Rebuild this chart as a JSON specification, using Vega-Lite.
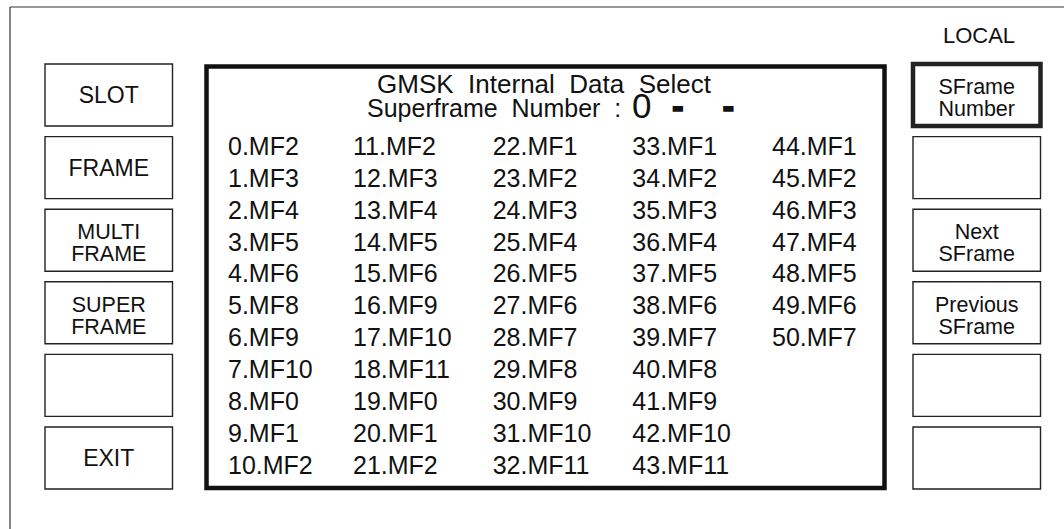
{
  "$schema": "https://vega.github.io/schema/vega-lite/v6.json",
  "width": 1064,
  "height": 529,
  "padding": 0,
  "autosize": {"type": "none"},
  "background": "white",
  "config": {"view": {"stroke": null}, "font": "Liberation Sans"},
  "resolve": {"scale": {"x": "independent", "y": "independent"}},
  "datasets": {
    "frame": [
      {"part": "top edge", "x": 10, "x2": 1064, "y": 7, "y2": 7},
      {"part": "left edge", "x": 10, "x2": 10, "y": 7, "y2": 529}
    ],
    "box": [
      {"part": "data window", "x": 206.5, "x2": 884.5, "y": 66.5, "y2": 488}
    ],
    "header": [
      {"kind": "title", "label": "GMSK\u00a0 Internal\u00a0 Data\u00a0 Select", "x": 544, "y": 93},
      {"kind": "sub", "label": "Superframe\u00a0 Number\u00a0 :", "x": 367, "y": 117},
      {"kind": "digit", "label": "0", "x": 632, "y": 118},
      {"kind": "dash", "label": "-\u00a0\u00a0\u00a0\u00a0-", "x": 703, "y": 118},
      {"kind": "status", "label": "LOCAL", "x": 979, "y": 43}
    ],
    "buttons": [
      {"side": "left", "slot": 0, "label": "SLOT", "selected": false},
      {"side": "left", "slot": 1, "label": "FRAME", "selected": false},
      {"side": "left", "slot": 2, "label": "MULTI\nFRAME", "selected": false},
      {"side": "left", "slot": 3, "label": "SUPER\nFRAME", "selected": false},
      {"side": "left", "slot": 4, "label": "", "selected": false},
      {"side": "left", "slot": 5, "label": "EXIT", "selected": false},
      {"side": "right", "slot": 0, "label": "SFrame\nNumber", "selected": true},
      {"side": "right", "slot": 1, "label": "", "selected": false},
      {"side": "right", "slot": 2, "label": "Next\nSFrame", "selected": false},
      {"side": "right", "slot": 3, "label": "Previous\nSFrame", "selected": false},
      {"side": "right", "slot": 4, "label": "", "selected": false},
      {"side": "right", "slot": 5, "label": "", "selected": false}
    ],
    "cells": [
      {"col": 0, "row": 0, "cell": "0.MF2"},
      {"col": 0, "row": 1, "cell": "1.MF3"},
      {"col": 0, "row": 2, "cell": "2.MF4"},
      {"col": 0, "row": 3, "cell": "3.MF5"},
      {"col": 0, "row": 4, "cell": "4.MF6"},
      {"col": 0, "row": 5, "cell": "5.MF8"},
      {"col": 0, "row": 6, "cell": "6.MF9"},
      {"col": 0, "row": 7, "cell": "7.MF10"},
      {"col": 0, "row": 8, "cell": "8.MF0"},
      {"col": 0, "row": 9, "cell": "9.MF1"},
      {"col": 0, "row": 10, "cell": "10.MF2"},
      {"col": 1, "row": 0, "cell": "11.MF2"},
      {"col": 1, "row": 1, "cell": "12.MF3"},
      {"col": 1, "row": 2, "cell": "13.MF4"},
      {"col": 1, "row": 3, "cell": "14.MF5"},
      {"col": 1, "row": 4, "cell": "15.MF6"},
      {"col": 1, "row": 5, "cell": "16.MF9"},
      {"col": 1, "row": 6, "cell": "17.MF10"},
      {"col": 1, "row": 7, "cell": "18.MF11"},
      {"col": 1, "row": 8, "cell": "19.MF0"},
      {"col": 1, "row": 9, "cell": "20.MF1"},
      {"col": 1, "row": 10, "cell": "21.MF2"},
      {"col": 2, "row": 0, "cell": "22.MF1"},
      {"col": 2, "row": 1, "cell": "23.MF2"},
      {"col": 2, "row": 2, "cell": "24.MF3"},
      {"col": 2, "row": 3, "cell": "25.MF4"},
      {"col": 2, "row": 4, "cell": "26.MF5"},
      {"col": 2, "row": 5, "cell": "27.MF6"},
      {"col": 2, "row": 6, "cell": "28.MF7"},
      {"col": 2, "row": 7, "cell": "29.MF8"},
      {"col": 2, "row": 8, "cell": "30.MF9"},
      {"col": 2, "row": 9, "cell": "31.MF10"},
      {"col": 2, "row": 10, "cell": "32.MF11"},
      {"col": 3, "row": 0, "cell": "33.MF1"},
      {"col": 3, "row": 1, "cell": "34.MF2"},
      {"col": 3, "row": 2, "cell": "35.MF3"},
      {"col": 3, "row": 3, "cell": "36.MF4"},
      {"col": 3, "row": 4, "cell": "37.MF5"},
      {"col": 3, "row": 5, "cell": "38.MF6"},
      {"col": 3, "row": 6, "cell": "39.MF7"},
      {"col": 3, "row": 7, "cell": "40.MF8"},
      {"col": 3, "row": 8, "cell": "41.MF9"},
      {"col": 3, "row": 9, "cell": "42.MF10"},
      {"col": 3, "row": 10, "cell": "43.MF11"},
      {"col": 4, "row": 0, "cell": "44.MF1"},
      {"col": 4, "row": 1, "cell": "45.MF2"},
      {"col": 4, "row": 2, "cell": "46.MF3"},
      {"col": 4, "row": 3, "cell": "47.MF4"},
      {"col": 4, "row": 4, "cell": "48.MF5"},
      {"col": 4, "row": 5, "cell": "49.MF6"},
      {"col": 4, "row": 6, "cell": "50.MF7"}
    ]
  },
  "layer": [
    {
      "data": {"name": "frame"},
      "mark": {"type": "rule", "stroke": "#333333", "strokeWidth": 1.2},
      "encoding": {
        "x": {"field": "x", "type": "quantitative", "axis": null, "scale": {"domain": [0, 1064], "range": [0, 1064], "nice": false, "zero": false}},
        "x2": {"field": "x2"},
        "y": {"field": "y", "type": "quantitative", "axis": null, "scale": {"domain": [0, 529], "range": [0, 529], "nice": false, "zero": false}},
        "y2": {"field": "y2"}
      }
    },
    {
      "data": {"name": "box"},
      "mark": {"type": "rect", "fill": "white", "stroke": "#111111", "strokeWidth": 4.5},
      "encoding": {
        "x": {"field": "x", "type": "quantitative", "axis": null, "scale": {"domain": [0, 1064], "range": [0, 1064], "nice": false, "zero": false}},
        "x2": {"field": "x2"},
        "y": {"field": "y", "type": "quantitative", "axis": null, "scale": {"domain": [0, 529], "range": [0, 529], "nice": false, "zero": false}},
        "y2": {"field": "y2"}
      }
    },
    {
      "data": {"name": "buttons"},
      "mark": {"type": "rect", "fill": "white", "stroke": "#222222"},
      "encoding": {
        "x": {"field": "side", "type": "nominal", "axis": null, "scale": {"type": "band", "domain": ["left", "right"], "range": [45, 1040.5], "paddingInner": 0.85311, "paddingOuter": 0}},
        "y": {"field": "slot", "type": "ordinal", "axis": null, "scale": {"type": "band", "domain": [0, 1, 2, 3, 4, 5], "range": [64, 489], "paddingInner": 0.146, "paddingOuter": 0}},
        "strokeWidth": {"condition": {"test": "datum.selected", "value": 4.5}, "value": 1.4}
      }
    },
    {
      "data": {"name": "buttons"},
      "transform": [{"filter": "indexof(datum.label, '\\n') < 0"}],
      "mark": {"type": "text", "fontSize": 23, "align": "center", "baseline": "middle", "color": "#111111", "dy": 1},
      "encoding": {
        "x": {"field": "side", "type": "nominal", "axis": null, "bandPosition": 0.5, "scale": {"type": "band", "domain": ["left", "right"], "range": [45, 1040.5], "paddingInner": 0.85311, "paddingOuter": 0}},
        "y": {"field": "slot", "type": "ordinal", "axis": null, "bandPosition": 0.5, "scale": {"type": "band", "domain": [0, 1, 2, 3, 4, 5], "range": [64, 489], "paddingInner": 0.146, "paddingOuter": 0}},
        "text": {"field": "label"}
      }
    },
    {
      "data": {"name": "buttons"},
      "transform": [{"filter": "indexof(datum.label, '\\n') >= 0"}],
      "mark": {"type": "text", "fontSize": 21.5, "lineHeight": 22, "lineBreak": "\n", "align": "center", "baseline": "middle", "color": "#111111", "dy": -7},
      "encoding": {
        "x": {"field": "side", "type": "nominal", "axis": null, "bandPosition": 0.5, "scale": {"type": "band", "domain": ["left", "right"], "range": [45, 1040.5], "paddingInner": 0.85311, "paddingOuter": 0}},
        "y": {"field": "slot", "type": "ordinal", "axis": null, "bandPosition": 0.5, "scale": {"type": "band", "domain": [0, 1, 2, 3, 4, 5], "range": [64, 489], "paddingInner": 0.146, "paddingOuter": 0}},
        "text": {"field": "label"}
      }
    },
    {
      "data": {"name": "cells"},
      "mark": {"type": "text", "fontSize": 25, "align": "left", "baseline": "middle", "color": "#111111", "dy": 1.5},
      "encoding": {
        "x": {"field": "col", "type": "quantitative", "axis": null, "scale": {"domain": [0, 1, 4], "range": [228, 353, 772], "nice": false, "zero": false}},
        "y": {"field": "row", "type": "quantitative", "axis": null, "scale": {"domain": [0, 10], "range": [145.5, 464], "nice": false, "zero": false}},
        "text": {"field": "cell"}
      }
    },
    {
      "data": {"name": "header"},
      "transform": [{"filter": "datum.kind === 'title'"}],
      "mark": {"type": "text", "fontSize": 26, "align": "center", "baseline": "alphabetic", "color": "#111111"},
      "encoding": {
        "x": {"field": "x", "type": "quantitative", "axis": null, "scale": {"domain": [0, 1064], "range": [0, 1064], "nice": false, "zero": false}},
        "y": {"field": "y", "type": "quantitative", "axis": null, "scale": {"domain": [0, 529], "range": [0, 529], "nice": false, "zero": false}},
        "text": {"field": "label"}
      }
    },
    {
      "data": {"name": "header"},
      "transform": [{"filter": "datum.kind === 'sub'"}],
      "mark": {"type": "text", "fontSize": 25, "align": "left", "baseline": "alphabetic", "color": "#111111"},
      "encoding": {
        "x": {"field": "x", "type": "quantitative", "axis": null, "scale": {"domain": [0, 1064], "range": [0, 1064], "nice": false, "zero": false}},
        "y": {"field": "y", "type": "quantitative", "axis": null, "scale": {"domain": [0, 529], "range": [0, 529], "nice": false, "zero": false}},
        "text": {"field": "label"}
      }
    },
    {
      "data": {"name": "header"},
      "transform": [{"filter": "datum.kind === 'digit'"}],
      "mark": {"type": "text", "fontSize": 35, "align": "left", "baseline": "alphabetic", "color": "#111111"},
      "encoding": {
        "x": {"field": "x", "type": "quantitative", "axis": null, "scale": {"domain": [0, 1064], "range": [0, 1064], "nice": false, "zero": false}},
        "y": {"field": "y", "type": "quantitative", "axis": null, "scale": {"domain": [0, 529], "range": [0, 529], "nice": false, "zero": false}},
        "text": {"field": "label"}
      }
    },
    {
      "data": {"name": "header"},
      "transform": [{"filter": "datum.kind === 'dash'"}],
      "mark": {"type": "text", "fontSize": 35, "fontWeight": "bold", "align": "center", "baseline": "alphabetic", "color": "#111111", "stroke": "#111111", "strokeWidth": 1.5},
      "encoding": {
        "x": {"field": "x", "type": "quantitative", "axis": null, "scale": {"domain": [0, 1064], "range": [0, 1064], "nice": false, "zero": false}},
        "y": {"field": "y", "type": "quantitative", "axis": null, "scale": {"domain": [0, 529], "range": [0, 529], "nice": false, "zero": false}},
        "text": {"field": "label"}
      }
    },
    {
      "data": {"name": "header"},
      "transform": [{"filter": "datum.kind === 'status'"}],
      "mark": {"type": "text", "fontSize": 22, "align": "center", "baseline": "alphabetic", "color": "#111111"},
      "encoding": {
        "x": {"field": "x", "type": "quantitative", "axis": null, "scale": {"domain": [0, 1064], "range": [0, 1064], "nice": false, "zero": false}},
        "y": {"field": "y", "type": "quantitative", "axis": null, "scale": {"domain": [0, 529], "range": [0, 529], "nice": false, "zero": false}},
        "text": {"field": "label"}
      }
    }
  ]
}
